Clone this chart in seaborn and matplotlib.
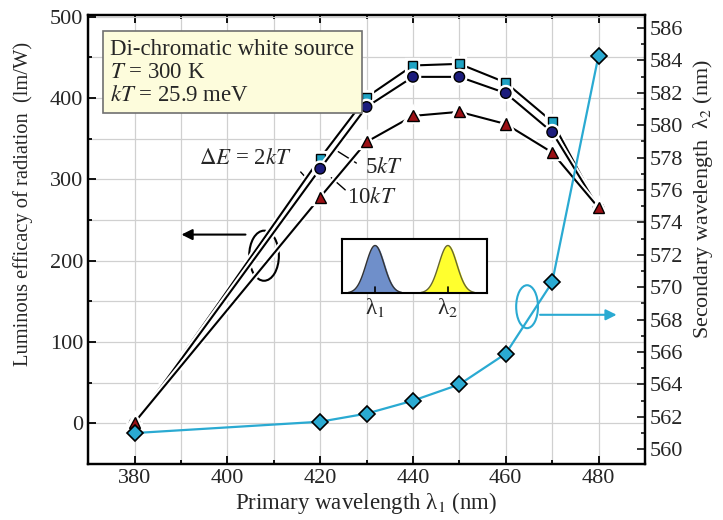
import numpy as np
import pandas as pd
import matplotlib
matplotlib.use('Agg')
import matplotlib.pyplot as plt
import matplotlib.patheffects as pe
from matplotlib.patches import Ellipse
from matplotlib.ticker import MultipleLocator
import seaborn as sns

# values
lam1 = [380, 420, 430, 440, 450, 460, 470, 480]
eff_2kT = [0, 326, 401, 440, 442, 419, 371, 265]
eff_5kT = [0, 313, 389, 426, 426, 406, 358, 265]
eff_10kT = [1, 278, 346, 378, 383, 368, 333, 265]
lam2 = [561.0, 561.7, 562.2, 563.0, 564.0, 565.9, 570.3, 584.3]

sns.set_theme(style="ticks")
plt.rcParams['font.family'] = ['Liberation Serif', 'DejaVu Serif']
plt.rcParams['mathtext.fontset'] = 'stix'
plt.rcParams['font.size'] = 16

cyan = '#2aaad2'
fs = 16.5

df = pd.DataFrame({'lam1': lam1, '2kT': eff_2kT, '5kT': eff_5kT,
                   '10kT': eff_10kT, 'lam2': lam2})

fig = plt.figure(figsize=(7.23, 5.2), dpi=100)
ax = fig.add_axes([0.122, 0.108, 0.770, 0.863])
ax2 = ax.twinx()

halo = [pe.Stroke(linewidth=4.5, foreground='white'), pe.Normal()]

styles = [('2kT', 's', '#1fa3c4', 6.5),
          ('5kT', 'o', '#1c1c7c', 7.5),
          ('10kT', '^', '#9b1015', 8)]
for col, mk, fc, ms in styles:
    sns.lineplot(data=df, x='lam1', y=col, ax=ax, color='black', lw=1.5,
                 marker=mk, markersize=ms, markerfacecolor=fc,
                 markeredgecolor='black', markeredgewidth=1,
                 estimator=None, sort=False, zorder=5)
    ax.lines[-1].set_path_effects(halo)

sns.lineplot(data=df, x='lam1', y='lam2', ax=ax2, color=cyan, lw=1.6,
             marker='D', markersize=8.5, markerfacecolor=cyan,
             markeredgecolor='black', markeredgewidth=1.2,
             estimator=None, sort=False, zorder=5)

# axes ranges, ticks, grid
ax.set_xlim(370, 490)
ax.set_ylim(-50, 502)
ax2.set_ylim(559.1, 586.8)
ax.xaxis.set_major_locator(MultipleLocator(20))
ax.xaxis.set_minor_locator(MultipleLocator(10))
ax.yaxis.set_major_locator(MultipleLocator(100))
ax.yaxis.set_minor_locator(MultipleLocator(50))
ax2.yaxis.set_major_locator(MultipleLocator(2))
ax2.yaxis.set_minor_locator(MultipleLocator(1))
ax.set_yticks([0, 100, 200, 300, 400, 500])

ax.grid(which='both', color='#d0d0d0', lw=0.9)
ax.set_axisbelow(True)
ax.tick_params(which='both', direction='in', top=True, labelsize=16,
               width=1.3, color='black')
ax.tick_params(which='major', length=6)
ax.tick_params(which='minor', length=3)
ax2.tick_params(which='both', direction='in', labelsize=16, width=1.3)
ax2.tick_params(which='major', length=6)
ax2.tick_params(which='minor', length=3)
for a in (ax, ax2):
    for s in a.spines.values():
        s.set_linewidth(1.6)
        s.set_color('black')

ax.set_xlabel('Primary wavelength λ$_1$ (nm)', fontsize=fs, labelpad=2)
ax.set_ylabel('Luminous efficacy of radiation  (lm/W)', fontsize=14.8)
ax.yaxis.set_label_coords(-0.10, 0.58)
ax2.set_ylabel('Secondary wavelength  λ$_2$ (nm)', fontsize=15.8)
ax2.yaxis.set_label_coords(1.082, 0.59)

# info box
ax.text(0.04, 0.947,
        'Di-chromatic white source\n$T$ = 300 K\n$kT$ = 25.9 meV',
        transform=ax.transAxes, ha='left', va='top', fontsize=fs,
        linespacing=1.12, zorder=8,
        bbox=dict(boxstyle='square,pad=0.33', facecolor='#fdfcdc',
                  edgecolor='#707070', lw=1.2))

# series labels with leader lines
ax.text(414, 326, r'$\Delta E$ = 2$kT$', ha='right', va='center', fontsize=fs)
ax.plot([415.8, 417.9], [309, 296], color='black', lw=1)
ax.text(429.7, 315, '5$kT$', ha='left', va='center', fontsize=fs)
ax.plot([423.9, 427.8], [334, 320], color='black', lw=1)
ax.text(425.8, 277, '10$kT$', ha='left', va='center', fontsize=fs)
ax.plot([422.4, 425.4], [302, 287], color='black', lw=1)

# ellipse + arrow for the left axis
ax.add_patch(Ellipse((407.9, 206), width=6.4, height=61.6, angle=0,
                     fill=False, ec='black', lw=1.5, zorder=3))
ax.annotate('', xy=(389.5, 232), xytext=(404.5, 232),
            arrowprops=dict(arrowstyle='-|>', color='black', lw=1.5,
                            mutation_scale=16), zorder=3)

# ellipse + arrow for the right axis
ax2.add_patch(Ellipse((464.6, 568.8), width=4.7, height=2.65,
                      fill=False, ec=cyan, lw=1.5, zorder=3))
ax2.annotate('', xy=(484.5, 568.3), xytext=(466.8, 568.3),
             arrowprops=dict(arrowstyle='-|>', color=cyan, lw=1.5,
                             mutation_scale=16), zorder=3)

# inset: two emission peaks
ins = fig.add_axes([0.473, 0.4365, 0.2006, 0.1038])
xs = np.linspace(0, 1, 300)
peak1 = 0.88 * np.exp(-((xs - 0.228) / 0.062) ** 2 / 2)
peak2 = 0.88 * np.exp(-((xs - 0.73) / 0.062) ** 2 / 2)
ins.fill_between(xs, peak1, color='#6f8fca')
ins.plot(xs[peak1 > 0.01], peak1[peak1 > 0.01], color='#333333', lw=1)
ins.fill_between(xs, peak2, color='#ffff2e')
ins.plot(xs[peak2 > 0.01], peak2[peak2 > 0.01], color='#666633', lw=1)
ins.plot([0.228, 0.228], [0, 0.12], color='black', lw=1.2)
ins.plot([0.73, 0.73], [0, 0.12], color='black', lw=1.2)
ins.set_xlim(0, 1)
ins.set_ylim(0, 1)
ins.set_xticks([])
ins.set_yticks([])
for s in ins.spines.values():
    s.set_linewidth(1.5)
    s.set_color('black')
ins.text(0.228, -0.05, 'λ$_1$', transform=ins.transAxes, ha='center',
         va='top', fontsize=fs)
ins.text(0.73, -0.05, 'λ$_2$', transform=ins.transAxes, ha='center',
         va='top', fontsize=fs)

fig.savefig('out.png', dpi=100)
plt.close()
